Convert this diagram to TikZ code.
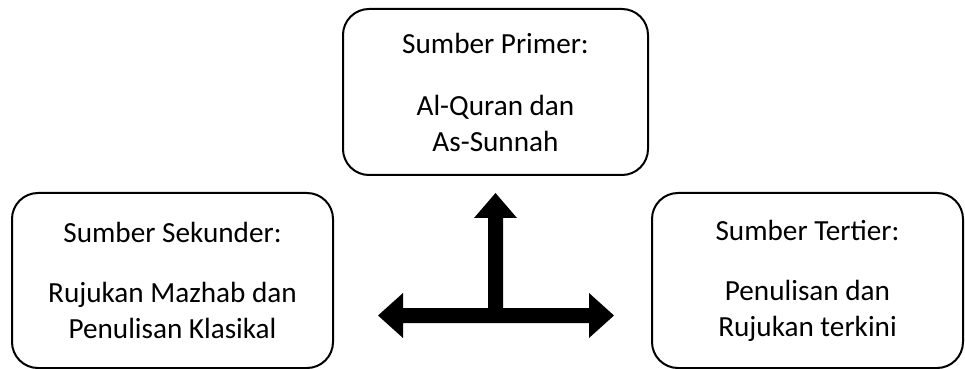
\documentclass[tikz,border=0pt]{standalone}
\usepackage{fontspec}
\setmainfont{Carlito}
\usepackage{tikz}

\tikzset{
  sumber/.style={draw=black,line width=1pt,rounded corners=13pt,align=center,
    inner sep=0pt,font=\fontsize{14.6pt}{18pt}\selectfont},
  blokpanah/.style={fill=black,draw=none}
}

\begin{document}
\begin{tikzpicture}[x=0.5pt,y=-0.5pt]
        \useasboundingbox (0,0) rectangle (965,369);
        % primer
        \node[sumber,minimum width=305*0.5pt,minimum height=166*0.5pt] (primer) at (495.5,92)
          {Sumber Primer:\\[13pt]Al-Quran dan\\As-Sunnah};
        % sekunder
        \node[sumber,minimum width=321*0.5pt,minimum height=175*0.5pt] (sekunder) at (172.5,280.5)
          {Sumber Sekunder:\\[12pt]Rujukan Mazhab dan\\Penulisan Klasikal};
        % tertier
        \node[sumber,minimum width=311*0.5pt,minimum height=175*0.5pt] (tertier) at (807.5,280.5)
          {Sumber Tertier:\\[12pt]Penulisan dan\\Rujukan terkini};
        % panah
        \coordinate (tengah) at (495.5,315.5);
        \fill[blokpanah] (495.5,193) -- (517,218) -- (503,218) -- (503,308)
          -- (589,308) -- (589,293) -- (614,315.5) -- (589,338) -- (589,323)
          -- (403,323) -- (403,338) -- (378,315.5) -- (403,293) -- (403,308)
          -- (488,308) -- (488,218) -- (474,218) -- cycle;
    \end{tikzpicture}
\end{document}
